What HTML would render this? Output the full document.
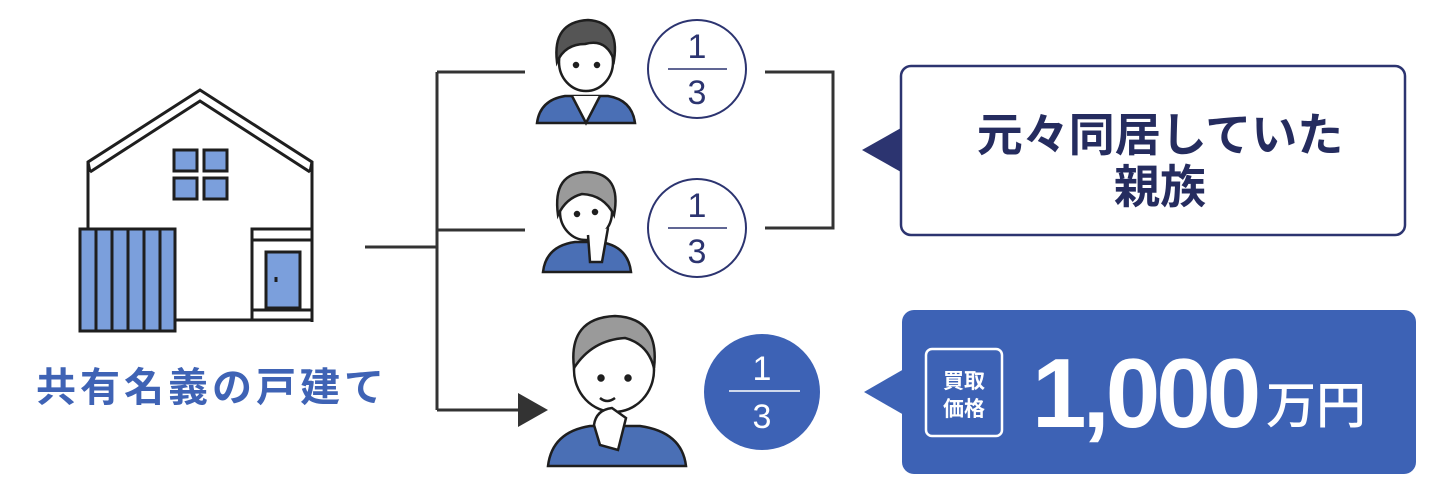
<!DOCTYPE html>
<html><head><meta charset="utf-8"><style>
html,body{margin:0;padding:0;background:#fff;}
svg{display:block}
text{font-family:"Liberation Sans","Noto Sans CJK JP",sans-serif;}
.jp{font-family:"Noto Sans CJK JP",sans-serif;font-weight:700;}
</style></head><body>
<svg width="1440" height="496" viewBox="0 0 1440 496" xmlns="http://www.w3.org/2000/svg">
<!-- House -->
<g stroke="#1e1e1e" stroke-width="3" fill="none" stroke-linejoin="miter">
  <polyline points="88,228 88,162 200,90 312,162 312,322" fill="#fff"/>
  <polyline points="90,172 200,101 310,172"/>
  <line x1="88" y1="162" x2="90" y2="172"/><line x1="312" y1="162" x2="310" y2="172"/>
  <line x1="175" y1="320" x2="252" y2="320"/>
  <g fill="#7b9fdc">
    <rect x="174" y="150" width="23" height="21"/><rect x="204" y="150" width="23" height="21"/>
    <rect x="174" y="178" width="23" height="21"/><rect x="204" y="178" width="23" height="21"/>
    <rect x="80" y="229" width="95" height="102"/>
    <rect x="266" y="252" width="34" height="56"/>
  </g>
  <line x1="96" y1="229" x2="96" y2="331"/><line x1="112" y1="229" x2="112" y2="331"/>
  <line x1="128" y1="229" x2="128" y2="331"/><line x1="144" y1="229" x2="144" y2="331"/>
  <line x1="160" y1="229" x2="160" y2="331"/>
  <polyline points="252,320 252,229 312,229"/>
  <line x1="252" y1="240" x2="312" y2="240"/>
  <line x1="252" y1="310" x2="312" y2="310"/>
  <line x1="252" y1="320" x2="312" y2="320"/>
  <line x1="276" y1="277" x2="276" y2="282" stroke-width="3"/>
</g>
<text x="212" y="401" text-anchor="middle" class="jp" font-size="40" fill="#3f63b5" letter-spacing="4">共有名義の戸建て</text>

<!-- connectors -->
<g stroke="#333" stroke-width="3" fill="none">
  <line x1="365" y1="247" x2="437" y2="247"/>
  <line x1="437" y1="72" x2="437" y2="410"/>
  <line x1="437" y1="72" x2="525" y2="72"/>
  <line x1="437" y1="230" x2="525" y2="230"/>
  <line x1="437" y1="410" x2="525" y2="410"/>
  <polyline points="765,72 833,72 833,228 765,228"/>
</g>
<polygon points="518,393 548,410 518,427" fill="#333"/>

<!-- Person 1 -->
<g stroke="#1e1e1e" stroke-width="2.5">
  <path d="M537,123 Q540,100 565,96 L608,96 Q632,100 635,123 Z" fill="#4a6fb5"/>
  <path d="M572,96 L586,123 L600,96" fill="#fff"/>
  <ellipse cx="586" cy="62" rx="27" ry="29" fill="#fff"/>
  <path d="M557,62 Q552,22 588,20 Q620,22 614,60 Q606,38 585,44 Q565,44 557,62Z" fill="#555"/>
  <circle cx="576" cy="65" r="2" fill="#222"/><circle cx="597" cy="65" r="2" fill="#222"/>
</g>
<!-- Person 2 -->
<g stroke="#1e1e1e" stroke-width="2.5">
  <path d="M543,272 Q546,246 575,242 L600,242 Q628,246 631,272 Z" fill="#4a6fb5"/>
  <ellipse cx="586" cy="212" rx="26" ry="28" fill="#fff"/>
  <path d="M558,215 Q552,172 588,172 Q622,174 614,215 Q604,195 582,194 Q566,198 558,215Z" fill="#9a9a9a"/>
  <circle cx="577" cy="214" r="2" fill="#222"/><circle cx="595" cy="212" r="2" fill="#222"/>
  <path d="M588,235 L590,262 L602,262 L608,228" fill="#fff"/>
</g>
<!-- Person 3 -->
<g stroke="#1e1e1e" stroke-width="2.5">
  <path d="M548,466 Q552,432 590,426 L640,426 Q682,432 686,466 Z" fill="#4a6fb5"/>
  <ellipse cx="614" cy="370" rx="40" ry="42" fill="#fff"/>
  <path d="M574,368 Q568,318 615,316 Q660,318 654,368 Q648,344 625,338 Q592,340 574,368Z" fill="#9a9a9a"/>
  <circle cx="601" cy="378" r="2.5" fill="#222"/><circle cx="628" cy="378" r="2.5" fill="#222"/>
  <path d="M600,398 Q607,404 615,398" fill="none"/>
  <path d="M600,445 L594,425 Q596,410 612,408 L626,418 L618,450 Z" fill="#fff"/>
</g>

<!-- fraction circles -->
<g font-size="34" text-anchor="middle">
  <circle cx="697" cy="69" r="49" fill="#fff" stroke="#2c3470" stroke-width="2"/>
  <text x="697" y="58" fill="#2c3470">1</text>
  <line x1="668" y1="69" x2="727" y2="69" stroke="#2c3470" stroke-width="1.5"/>
  <text x="697" y="104" fill="#2c3470">3</text>
  <circle cx="697" cy="228" r="49" fill="#fff" stroke="#2c3470" stroke-width="2"/>
  <text x="697" y="217" fill="#2c3470">1</text>
  <line x1="668" y1="228" x2="727" y2="228" stroke="#2c3470" stroke-width="1.5"/>
  <text x="697" y="263" fill="#2c3470">3</text>
  <circle cx="762" cy="392" r="58" fill="#3d62b5"/>
  <text x="762" y="380" fill="#fff">1</text>
  <line x1="729" y1="391" x2="800" y2="391" stroke="#fff" stroke-width="1.5"/>
  <text x="762" y="428" fill="#fff">3</text>
</g>

<!-- callout 1 -->
<rect x="901" y="66" width="504" height="169" rx="10" fill="#fff" stroke="#2c3470" stroke-width="2.5"/>
<polygon points="862,150 901,128 901,172" fill="#2c3470"/>
<text x="1160" y="151" text-anchor="middle" class="jp" font-size="46" fill="#252c5f">元々同居していた</text>
<text x="1160" y="203" text-anchor="middle" class="jp" font-size="46" fill="#252c5f">親族</text>

<!-- callout 2 -->
<rect x="902" y="310" width="514" height="164" rx="12" fill="#3d62b5"/>
<polygon points="864,392 904,369 904,415" fill="#3d62b5"/>
<rect x="926" y="349" width="76" height="87" rx="6" fill="none" stroke="#fff" stroke-width="2.5"/>
<text x="964" y="388" text-anchor="middle" class="jp" font-size="21" fill="#fff">買取</text>
<text x="964" y="416" text-anchor="middle" class="jp" font-size="21" fill="#fff">価格</text>
<text x="1032" y="427" font-size="98" fill="#fff" font-weight="700" letter-spacing="-4">1,000</text>
<text x="1266" y="423" class="jp" font-size="50" fill="#fff" style="font-weight:500">万円</text>
</svg>
</body></html>
